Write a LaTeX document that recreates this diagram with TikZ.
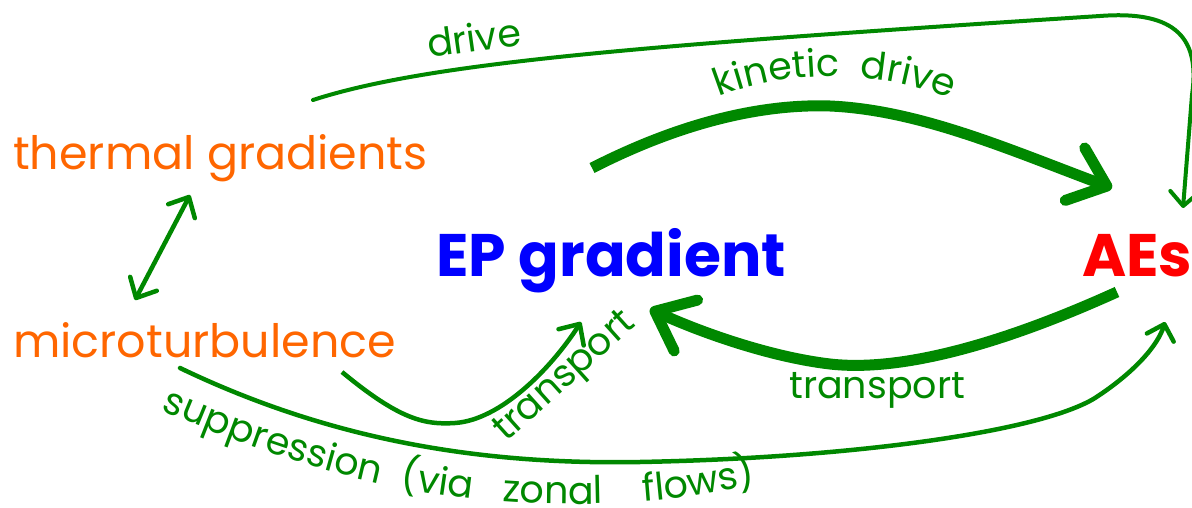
\documentclass[tikz,border=0pt]{standalone}
\usepackage{fontspec}
\setmainfont{Poppins}
\usetikzlibrary{arrows.meta,decorations.text}
\definecolor{lg}{RGB}{0,136,0}
\definecolor{og}{RGB}{255,102,0}
\definecolor{eb}{RGB}{0,0,255}
\definecolor{ar}{RGB}{255,0,0}
\newcommand{\labfont}{\fontsize{38}{40}\selectfont}
\begin{document}
\begin{tikzpicture}[x=1pt,y=-1pt,
  orangetxt/.style={text=og, font=\fontsize{46}{50}\selectfont, inner sep=0pt, anchor=base west},
  bigtxt/.style={font=\bfseries\fontsize{60}{64}\selectfont, inner sep=0pt, anchor=base west},
  labtxt/.style={text=lg, font=\labfont, inner sep=0pt, anchor=base west},
  thinarrow/.style={draw=lg, line width=4pt, line cap=round, -{Straight Barb[length=14pt,width=28pt,round]}},
  medarrow/.style={draw=lg, line width=4.5pt, -{Straight Barb[length=16pt,width=30pt,round]}},
  thickarrow/.style={draw=lg, line width=11pt, -{Straight Barb[length=34pt,width=56pt,round]}}
]
\useasboundingbox (0,0) rectangle (1192,508);
\node[orangetxt] (thermal) at (13,170) {thermal gradients};
\node[orangetxt] (micro) at (13,357) {microturbulence};
\node[bigtxt, text=eb] (ep) at (436,276) {EP gradient};
\node[bigtxt, text=ar] (aes) at (1082,276) {AEs};

\coordinate (dA) at (313,100);
\coordinate (dB) at (1183,208);
\coordinate (tgA) at (190,195);
\coordinate (muA) at (135,300);
\coordinate (kA) at (592,168);
\coordinate (kB) at (1112,188);
\coordinate (trA) at (1117,292);
\coordinate (trB) at (650,309);
\coordinate (mtA) at (342,372);
\coordinate (mtB) at (581,322);
\coordinate (sA) at (180,368);
\coordinate (sB) at (1165,322);

% drive
\draw[thinarrow] (dA) .. controls (430,62) and (650,45) .. (1100,16) .. controls (1178,10) and (1200,40) .. (1192,95) -- (dB);
\node[labtxt, rotate=8] (drivelab) at (429,58) {drive};
% thermal <-> micro
\draw[medarrow, {Straight Barb[length=16pt,width=30pt,round]}-{Straight Barb[length=16pt,width=30pt,round]}] (tgA) -- (muA);
% kinetic drive
\draw[thickarrow] (kA) .. controls (690,118) and (770,104) .. (830,106) .. controls (920,110) and (1010,150) .. (kB);
\path[decorate, decoration={text along path, text align=center, text={|\labfont\color{lg}|kinetic\ \ drive}}]
  (705,103) .. controls (780,68) and (880,66) .. (965,105);
% transport thick
\draw[thickarrow] (trA) .. controls (1000,345) and (900,372) .. (830,364) .. controls (770,357) and (700,332) .. (trB);
\node[labtxt] (translab) at (789,398) {transport};
% transport from micro
\draw[medarrow] (mtA) .. controls (400,420) and (425,425) .. (455,423) .. controls (500,420) and (550,370) .. (mtB);
\node[labtxt, rotate=42] (translab2) at (506,443) {transport};
% suppression
\draw[thinarrow, line width=4.5pt] (sA) .. controls (330,440) and (480,465) .. (640,462) .. controls (850,458) and (1040,432) .. (1095,398) .. controls (1135,372) and (1158,345) .. (sB);
\path[decorate, decoration={text along path, text={|\labfont\color{lg}|suppression\ \ (via\ \ \ zonal\ \ \ \ flows)}}]
  (161,410) .. controls (300,470) and (420,503) .. (560,504) .. controls (660,505) and (720,495) .. (800,472);
\end{tikzpicture}
\end{document}
